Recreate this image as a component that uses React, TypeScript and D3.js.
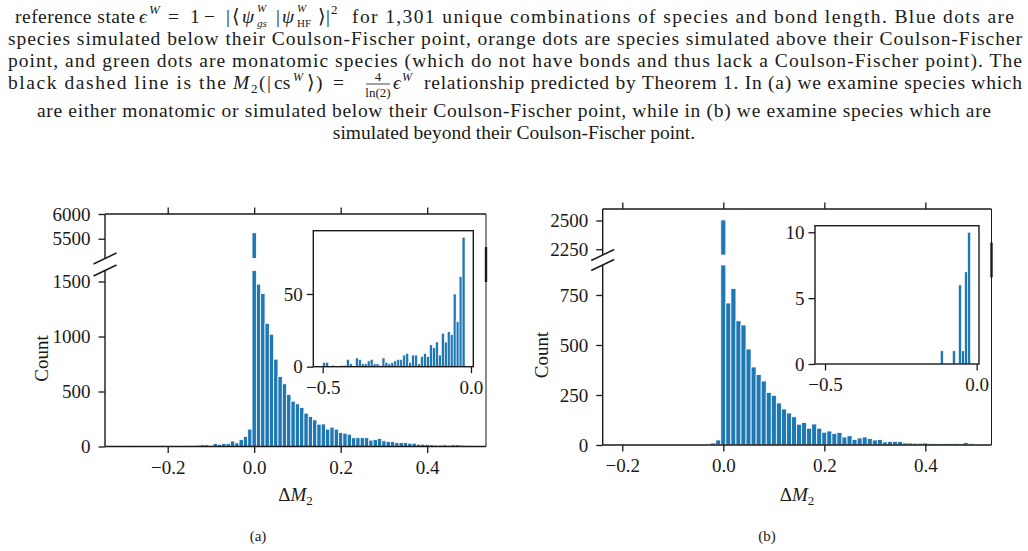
import React, { useEffect, useRef } from 'react';
import * as d3 from 'd3';

// histogram bins are 0.01 wide, centred on multiples of 0.01
const BIN = 0.01;

// (a) monatomic species or species below their Coulson-Fischer point
const aBinStart = -0.29;
const aCounts = [
  8, 0, 0, 0, 0, 0, 0, 5, 5, 5, 5, 5, 0, 8, 8, 8, 12, 15, 15, 10, 28, 20, 27, 25, 50, 33, 62, 90, 158,
  5620, 1476, 1390, 1120, 1021, 794, 636, 570, 473, 412,
  388, 355, 303, 273, 242, 203, 205, 158, 176, 158,
  127, 121, 112, 79, 80, 80, 80, 58, 64, 73,
  52, 45, 45, 36, 36, 36, 30, 30, 21, 21,
  18, 15, 12, 12, 15, 12, 15, 15, 12, 10,
];
const aInsetBinStart = -0.495;
const aInsetCounts = [
  3, 3, 0, 1, 0, 0, 1, 1, 5, 2,
  0, 6, 5, 2, 2, 4, 5, 2, 2, 1,
  6, 3, 2, 3, 4, 5, 5, 8, 9, 3,
  8, 8, 2, 7, 9, 7, 15, 13, 17, 8,
  23, 17, 24, 22, 50, 31, 62, 89,
];

// (b) species beyond their Coulson-Fischer point
const bBinStart = -0.05;
const bCounts = [
  3, 0, 5, 10, 25,
  2505, 710, 782, 621, 600, 480, 390, 352, 320, 263,
  248, 210, 180, 160, 141, 104, 113, 84, 105, 84,
  64, 70, 58, 63, 40, 46, 28, 35, 40, 33,
  25, 27, 15, 17, 18, 18, 10, 10, 9, 9,
  10, 8, 8, 7, 7, 7, 8, 7, 12, 6,
];
const bInsetBinStart = -0.115;
const bInsetCounts = [1, 0, 0, 0, 1, 0, 6, 1, 7, 10];

// tick labels
const xTicks = [-0.2, 0, 0.2, 0.4];
const insetXTicks = [-0.5, 0];
const aUpperTicks = [5500, 6000];
const aLowerTicks = [0, 500, 1000, 1500];
const aInsetYTicks = [0, 50];
const bUpperTicks = [2250, 2500];
const bLowerTicks = [0, 250, 500, 750];
const bInsetYTicks = [0, 5, 10];

const BLUE = '#1f77b4';
const INK = '#1a1a1a';
const FONT = 'Liberation Serif, DejaVu Serif, serif';
const fmt1 = d3.format('.1f');
const fmtInt = d3.format('d');

const panelA = {
  left: 105, right: 486, top: 214, upperBottom: 258.5, lowerTop: 270.5, bottom: 446.5,
  xDomain: [-0.345, 0.536], upperDomain: [5100, 6000], lowerDomain: [0, 1600],
  binStart: aBinStart, counts: aCounts, upperTicks: aUpperTicks, lowerTicks: aLowerTicks,
  inset: {
    left: 313.3, right: 473.3, top: 230.7, bottom: 366.7,
    xDomain: [-0.5317, 0.0078], yDomain: [0, 93.5],
    binStart: aInsetBinStart, counts: aInsetCounts, yTicks: aInsetYTicks,
  },
};

const panelB = {
  left: 602.7, right: 991.5, top: 209, upperBottom: 255, lowerTop: 265, bottom: 445,
  xDomain: [-0.2388, 0.531], upperDomain: [2200, 2600], lowerDomain: [0, 900],
  binStart: bBinStart, counts: bCounts, upperTicks: bUpperTicks, lowerTicks: bLowerTicks,
  inset: {
    left: 815, right: 979, top: 225.7, bottom: 364,
    xDomain: [-0.533, 0.0076], yDomain: [0, 10.5],
    binStart: bInsetBinStart, counts: bInsetCounts, yTicks: bInsetYTicks,
  },
};

function makeBins(start: number, counts: number[]) {
  return counts
    .map((c, i) => {
      const mid = start + i * BIN;
      return { x0: mid - BIN / 2, x1: mid + BIN / 2, c };
    })
    .filter((b) => b.c > 0);
}

function drawBars(g: any, bins: any[], x: any, y: any, cap: number, sw: number) {
  const base = y.range()[0];
  g.append('g')
    .selectAll('rect')
    .data(bins)
    .join('rect')
    .attr('x', (b: any) => x(b.x0))
    .attr('width', (b: any) => x(b.x1) - x(b.x0))
    .attr('y', (b: any) => y(Math.min(b.c, cap)))
    .attr('height', (b: any) => base - y(Math.min(b.c, cap)))
    .attr('fill', BLUE)
    .attr('stroke', '#fff')
    .attr('stroke-width', sw);
}

function styleAxis(sel: any) {
  sel.attr('font-family', FONT).attr('font-size', 19).attr('color', INK);
  sel.select('.domain').remove();
  sel.selectAll('.tick line').attr('stroke-width', 1.3);
}

function line(g: any, x1: number, y1: number, x2: number, y2: number, w = 1.4) {
  g.append('line')
    .attr('x1', x1).attr('y1', y1).attr('x2', x2).attr('y2', y2)
    .attr('stroke', INK).attr('stroke-width', w);
}

function drawPanel(root: any, p: any) {
  const g = root.append('g');
  const x = d3.scaleLinear().domain(p.xDomain).range([p.left, p.right]);
  const yUp = d3.scaleLinear().domain(p.upperDomain).range([p.upperBottom, p.top]);
  const yLo = d3.scaleLinear().domain(p.lowerDomain).range([p.bottom, p.lowerTop]);

  const bins = makeBins(p.binStart, p.counts);
  drawBars(g, bins, x, yLo, p.lowerDomain[1], 0.8);
  drawBars(g, bins.filter((b) => b.c > p.upperDomain[0]), x, yUp, p.upperDomain[1], 0.8);

  g.append('g').attr('transform', `translate(0,${p.bottom})`)
    .call(d3.axisBottom(x).tickValues(xTicks).tickSize(6.5).tickPadding(7.5).tickFormat(fmt1 as any))
    .call(styleAxis);
  g.append('g').attr('transform', `translate(0,${p.top})`)
    .call(d3.axisTop(x).tickValues(xTicks).tickSize(6.5).tickFormat(() => ''))
    .call(styleAxis);
  g.append('g').attr('transform', `translate(${p.left},0)`)
    .call(d3.axisLeft(yUp).tickValues(p.upperTicks).tickSize(6.5).tickPadding(8).tickFormat(fmtInt as any))
    .call(styleAxis);
  g.append('g').attr('transform', `translate(${p.left},0)`)
    .call(d3.axisLeft(yLo).tickValues(p.lowerTicks).tickSize(6.5).tickPadding(8).tickFormat(fmtInt as any))
    .call(styleAxis);

  // spines
  line(g, p.left, p.top, p.right, p.top);
  line(g, p.left, p.bottom, p.right, p.bottom);
  line(g, p.left, p.top, p.left, p.upperBottom);
  line(g, p.left, p.lowerTop, p.left, p.bottom);
  line(g, p.right, p.top, p.right, p.bottom, 1);

  // break marks
  line(g, p.left - 11.5, p.upperBottom + 5.5, p.left + 11.5, p.upperBottom - 5.5, 1.5);
  line(g, p.left - 11.5, p.lowerTop + 5.5, p.left + 11.5, p.lowerTop - 5.5, 1.5);
  const mid = (p.upperBottom + p.lowerTop) / 2;
  line(g, p.right, mid - 17.5, p.right, mid + 17.5, 2.4);

  // inset
  const s = p.inset;
  const ig = g.append('g');
  ig.append('rect')
    .attr('x', s.left).attr('y', s.top)
    .attr('width', s.right - s.left).attr('height', s.bottom - s.top)
    .attr('fill', '#fff');
  const ix = d3.scaleLinear().domain(s.xDomain).range([s.left, s.right]);
  const iy = d3.scaleLinear().domain(s.yDomain).range([s.bottom, s.top]);
  drawBars(ig, makeBins(s.binStart, s.counts), ix, iy, s.yDomain[1], 0.6);
  ig.append('g').attr('transform', `translate(0,${s.bottom})`)
    .call(d3.axisBottom(ix).tickValues(insetXTicks).tickSize(6.5).tickPadding(7).tickFormat(fmt1 as any))
    .call(styleAxis);
  ig.append('g').attr('transform', `translate(${s.left},0)`)
    .call(d3.axisLeft(iy).tickValues(s.yTicks).tickSize(6.5).tickPadding(4).tickFormat(fmtInt as any))
    .call(styleAxis);
  ig.append('rect')
    .attr('x', s.left).attr('y', s.top)
    .attr('width', s.right - s.left).attr('height', s.bottom - s.top)
    .attr('fill', 'none').attr('stroke', INK).attr('stroke-width', 1.4);
}

// small math glyph placed at an explicit position
function M(props: { x: number; y: number; t: string; it?: boolean; fs?: number }) {
  return (
    <text x={props.x} y={props.y} fontStyle={props.it ? 'italic' : 'normal'} fontSize={props.fs}>
      {props.t}
    </text>
  );
}

// stacked superscript W over a subscript, as one text
function SupSub(props: { x: number; y: number; sub: string; subIt?: boolean }) {
  return (
    <text x={props.x} y={props.y - 11} fontSize={11}>
      <tspan fontStyle="italic">W</tspan>
      <tspan x={props.x} dy={15} fontStyle={props.subIt ? 'italic' : 'normal'}>{props.sub}</tspan>
    </text>
  );
}

export default function App() {
  const ref = useRef<SVGGElement>(null);

  useEffect(() => {
    const root = d3.select(ref.current);
    root.selectAll('*').remove();
    drawPanel(root, panelA);
    drawPanel(root, panelB);
  }, []);

  const b1 = 23;
  const b4 = 89;

  return (
    <svg
      width={1028}
      height={551}
      style={{ position: 'absolute', left: 0, top: 0, background: '#fff' }}
      fontFamily={FONT}
      fill={INK}
    >
      {/* caption */}
      <g fontSize={19.5}>
        <text x={15} y={b1} textLength={120} lengthAdjust="spacing">reference state</text>
        <M x={139} y={b1} t="ϵ" it />
        <M x={149} y={b1 - 9} t="W" it fs={13} />
        <M x={168} y={b1} t="=" />
        <M x={190} y={b1} t="1" />
        <M x={204} y={b1} t="−" />
        <M x={226} y={b1} t="|" />
        <M x={232} y={b1} t="⟨" />
        <M x={242} y={b1} t="ψ" it />
        <SupSub x={257} y={b1} sub="gs" subIt />
        <M x={276} y={b1} t="|" />
        <M x={282} y={b1} t="ψ" it />
        <SupSub x={297} y={b1} sub="HF" />
        <M x={318} y={b1} t="⟩" />
        <M x={326} y={b1} t="|" />
        <M x={331} y={b1 - 9} t="2" fs={13} />
        <text x={352} y={b1} textLength={662} lengthAdjust="spacing">
          for 1,301 unique combinations of species and bond length. Blue dots are
        </text>

        <text x={8} y={45} textLength={1014} lengthAdjust="spacing">
          species simulated below their Coulson-Fischer point, orange dots are species simulated above their Coulson-Fischer
        </text>
        <text x={8} y={67} textLength={1014} lengthAdjust="spacing">
          point, and green dots are monatomic species (which do not have bonds and thus lack a Coulson-Fischer point). The
        </text>

        <text x={8} y={b4} textLength={218} lengthAdjust="spacing">black dashed line is the</text>
        <M x={233} y={b4} t="M" it />
        <M x={251} y={b4 + 4} t="2" fs={13} />
        <M x={259} y={b4} t="(" />
        <M x={267} y={b4} t="|" />
        <M x={274} y={b4} t="cs" />
        <M x={293} y={b4 - 8} t="W" it fs={12} />
        <M x={307} y={b4} t="⟩" />
        <M x={316} y={b4} t=")" />
        <M x={333} y={b4} t="=" />
        <text x={378} y={b4 - 8} fontSize={13} textAnchor="middle">4</text>
        <line x1={366} x2={390} y1={b4 - 5} y2={b4 - 5} stroke={INK} strokeWidth={0.8} />
        <text x={378} y={b4 + 8} fontSize={13} textAnchor="middle">ln(2)</text>
        <M x={393} y={b4} t="ϵ" it />
        <M x={402} y={b4 - 8} t="W" it fs={12} />
        <text x={424} y={b4} textLength={598} lengthAdjust="spacing">
          relationship predicted by Theorem 1. In (a) we examine species which
        </text>

        <text x={37} y={117} textLength={954} lengthAdjust="spacing">
          are either monatomic or simulated below their Coulson-Fischer point, while in (b) we examine species which are
        </text>
        <text x={514} y={139} textAnchor="middle">simulated beyond their Coulson-Fischer point.</text>
      </g>

      <g ref={ref} />

      {/* axis labels */}
      <g fontSize={19}>
        <text transform="translate(41,358.5) rotate(-90)" textAnchor="middle" dy="0.35em">Count</text>
        <text transform="translate(541,355) rotate(-90)" textAnchor="middle" dy="0.35em">Count</text>
        <text x={295.5} y={501} textAnchor="middle">
          Δ<tspan fontStyle="italic">M</tspan>
          <tspan fontSize={13} dy={4}>2</tspan>
        </text>
        <text x={797} y={501} textAnchor="middle">
          Δ<tspan fontStyle="italic">M</tspan>
          <tspan fontSize={13} dy={4}>2</tspan>
        </text>
      </g>
      <g fontSize={15}>
        <text x={258} y={541} textAnchor="middle">(a)</text>
        <text x={767} y={541} textAnchor="middle">(b)</text>
      </g>
    </svg>
  );
}
